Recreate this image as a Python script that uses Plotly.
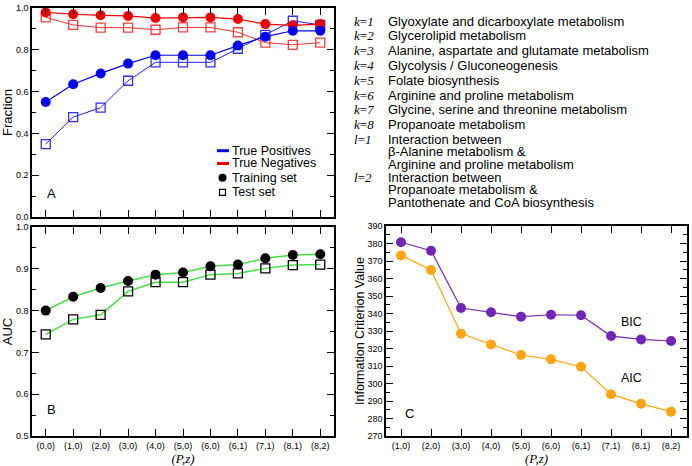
import plotly.graph_objects as go

W, H = 692, 466

# ---------------- data ----------------
cats_ab = ["(0,0)", "(1,0)", "(2,0)", "(3,0)", "(4,0)", "(5,0)", "(6,0)", "(6,1)", "(7,1)", "(8,1)", "(8,2)"]
cats_c = ["(1,0)", "(2,0)", "(3,0)", "(4,0)", "(5,0)", "(6,0)", "(6,1)", "(7,1)", "(8,1)", "(8,2)"]

tp_train = [0.550, 0.635, 0.687, 0.734, 0.774, 0.774, 0.774, 0.820, 0.863, 0.891, 0.891]
tp_test = [0.349, 0.478, 0.523, 0.652, 0.740, 0.740, 0.740, 0.805, 0.871, 0.939, 0.919]
tn_train = [0.979, 0.970, 0.965, 0.962, 0.952, 0.955, 0.955, 0.947, 0.923, 0.917, 0.923]
tn_test = [0.955, 0.919, 0.906, 0.906, 0.896, 0.907, 0.907, 0.884, 0.834, 0.824, 0.834]

auc_train = [0.800, 0.833, 0.854, 0.871, 0.886, 0.891, 0.906, 0.910, 0.925, 0.933, 0.935]
auc_test = [0.743, 0.779, 0.790, 0.846, 0.868, 0.868, 0.886, 0.889, 0.901, 0.909, 0.910]

bic = [380.7, 375.9, 343.1, 340.7, 338.2, 339.3, 339.0, 327.1, 325.2, 324.3]
aic = [373.2, 364.9, 328.5, 322.3, 316.3, 313.8, 309.6, 293.9, 288.4, 283.9]

legend_labels = ["True Positives", "True Negatives", "Training set", "Test set"]

key_labels = ["k=1", "k=2", "k=3", "k=4", "k=5", "k=6", "k=7", "k=8", "l=1", "l=2"]
key_texts = [
    ["Glyoxylate and dicarboxylate metabolism"],
    ["Glycerolipid metabolism"],
    ["Alanine, aspartate and glutamate metabolism"],
    ["Glycolysis / Gluconeogenesis"],
    ["Folate biosynthesis"],
    ["Arginine and proline metabolism"],
    ["Glycine, serine and threonine metabolism"],
    ["Propanoate metabolism"],
    ["Interaction between", "\u03b2-Alanine metabolism &", "Arginine and proline metabolism"],
    ["Interaction between", "Propanoate metabolism &", "Pantothenate and CoA biosynthesis"],
]

# ---------------- style ----------------
BLUE = "#0000ee"
RED = "#ee0000"
GREEN = "#44dd44"
PURPLE = "#7126b8"
ORANGE = "#ffa514"
SANS = "Liberation Sans, Arial, sans-serif"
SERIF = "Liberation Serif, Times New Roman, serif"


def px(x):
    return x / W


def py(y):
    return 1 - y / H


fig = go.Figure()


def line_trace(x, y, color, symbol, xa, ya, width=1.2, msize=10, open_=False, mcolor=None):
    mcolor = mcolor or color
    if open_:
        marker = dict(symbol="square-open", size=msize - 1, color=mcolor, line=dict(width=1.3, color=mcolor))
    else:
        marker = dict(symbol=symbol, size=msize, color=mcolor, line=dict(width=0))
    return go.Scatter(x=x, y=y, mode="lines+markers", line=dict(color=color, width=width),
                      marker=marker, xaxis=xa, yaxis=ya, showlegend=False, hoverinfo="x+y")


# Panel A
fig.add_trace(line_trace(cats_ab, tn_test, "#ee3030", "square", "x", "y", width=1, open_=True, mcolor="#ee4040"))
fig.add_trace(line_trace(cats_ab, tp_test, "#2020ee", "square", "x", "y", width=1, open_=True, mcolor="#3030ee"))
fig.add_trace(line_trace(cats_ab, tn_train, RED, "circle", "x", "y", width=1.2))
fig.add_trace(line_trace(cats_ab, tp_train, BLUE, "circle", "x", "y", width=1.2))

# Panel B
fig.add_trace(line_trace(cats_ab, auc_test, GREEN, "square", "x2", "y2", width=1.5, open_=True, mcolor="black"))
fig.add_trace(line_trace(cats_ab, auc_train, GREEN, "circle", "x2", "y2", width=1.5, mcolor="black"))

# Panel C
fig.add_trace(line_trace(cats_c, aic, ORANGE, "circle", "x3", "y3", width=1.2))
fig.add_trace(line_trace(cats_c, bic, PURPLE, "circle", "x3", "y3", width=1.2))

axis_common = dict(showline=True, linecolor="black", linewidth=1.5, mirror="allticks",
                   ticks="inside", ticklen=7, tickwidth=1, tickcolor="black",
                   showgrid=False, zeroline=False, automargin=False,
                   tickfont=dict(family=SANS, size=9, color="black"))

xa_dom = [px(32), px(334)]
xc_dom = [px(386), px(687)]
ya_dom = [py(217), py(8)]
yb_dom = [py(436), py(227)]
yc_dom = [py(436), py(226)]

fig.update_layout(
    width=W, height=H,
    margin=dict(l=0, r=0, t=0, b=0, autoexpand=False),
    paper_bgcolor="white", plot_bgcolor="white",
    font=dict(family=SANS, color="black"),
    showlegend=False,
    xaxis=dict(domain=xa_dom, anchor="y", type="category", categoryorder="array",
               categoryarray=cats_ab, range=[-0.5, 10.5], showticklabels=False, **axis_common),
    yaxis=dict(domain=ya_dom, anchor="x", range=[0, 1], dtick=0.2, tickformat=".1f",
               minor=dict(dtick=0.1, ticklen=4, ticks="inside", tickcolor="black"),
               title=dict(text="Fraction", font=dict(family=SANS, size=13), standoff=3),
               **axis_common),
    xaxis2=dict(domain=xa_dom, anchor="y2", type="category", categoryorder="array",
                categoryarray=cats_ab, range=[-0.5, 10.5],
                title=dict(text="<i>(P,z)</i>", font=dict(family=SERIF, size=13), standoff=0),
                **axis_common),
    yaxis2=dict(domain=yb_dom, anchor="x2", range=[0.5, 1], dtick=0.1, tickformat=".1f",
                minor=dict(dtick=0.05, ticklen=4, ticks="inside", tickcolor="black"),
                title=dict(text="AUC", font=dict(family=SANS, size=13), standoff=3),
                **axis_common),
    xaxis3=dict(domain=xc_dom, anchor="y3", type="category", categoryorder="array",
                categoryarray=cats_c, range=[-0.5, 9.53],
                title=dict(text="<i>(P,z)</i>", font=dict(family=SERIF, size=13), standoff=0),
                **axis_common),
    yaxis3=dict(domain=yc_dom, anchor="x3", range=[270, 390], dtick=10,
                minor=dict(dtick=5, ticklen=4, ticks="inside", tickcolor="black"),
                title=dict(text="Information Criterion Value", font=dict(family=SANS, size=12.5), standoff=0),
                **axis_common),
)

annotations = []
shapes = []


def text_ann(x, y, text, size=12, family=SANS, xanchor="left"):
    annotations.append(dict(x=px(x), y=py(y), xref="paper", yref="paper", text=text,
                            showarrow=False, xanchor=xanchor, yanchor="middle",
                            font=dict(family=family, size=size, color="black")))


# legend of panel A (keys drawn as paper-space decorations)
leg_y = [150.7, 163.5, 177.7, 192.3]
for lab, yy in zip(legend_labels, leg_y):
    text_ann(230, yy, lab, size=12.5)
shapes.append(dict(type="line", xref="paper", yref="paper", x0=px(217), x1=px(229),
                   y0=py(leg_y[0]), y1=py(leg_y[0]), line=dict(color=BLUE, width=3)))
shapes.append(dict(type="line", xref="paper", yref="paper", x0=px(217), x1=px(229),
                   y0=py(leg_y[1]), y1=py(leg_y[1]), line=dict(color=RED, width=3)))
shapes.append(dict(type="circle", xref="paper", yref="paper", x0=px(218.5), x1=px(226.5),
                   y0=py(leg_y[2] - 4), y1=py(leg_y[2] + 4), fillcolor="black", line=dict(width=0)))
shapes.append(dict(type="rect", xref="paper", yref="paper", x0=px(219.5), x1=px(225.5),
                   y0=py(leg_y[3] - 3), y1=py(leg_y[3] + 3), fillcolor="white",
                   line=dict(color="black", width=1.2)))

# panel letters
text_ann(45, 193, "A", size=13)
text_ann(45, 409, "B", size=13)
text_ann(403, 413, "C", size=13)
# BIC / AIC labels
text_ann(619, 322, "BIC", size=12.5)
text_ann(619, 378, "AIC", size=12.5)

# key on the right
row_y = [21, 35.7, 50.7, 65.3, 80, 95, 109.7, 124.3, 139.3, 177.3]
sub_dy = 12.5
for lab, lines, y0 in zip(key_labels, key_texts, row_y):
    letter, num = lab.split("=")
    text_ann(352, y0, f"<i>{letter}</i>=<i>{num}</i>", size=13, family=SERIF)
    for j, line in enumerate(lines):
        text_ann(386, y0 + j * sub_dy, line, size=13)

fig.update_layout(annotations=annotations, shapes=shapes)

fig.write_html("out.html", config={"displayModeBar": False},
               post_script="document.body.style.margin='0';document.body.style.overflow='hidden';")
